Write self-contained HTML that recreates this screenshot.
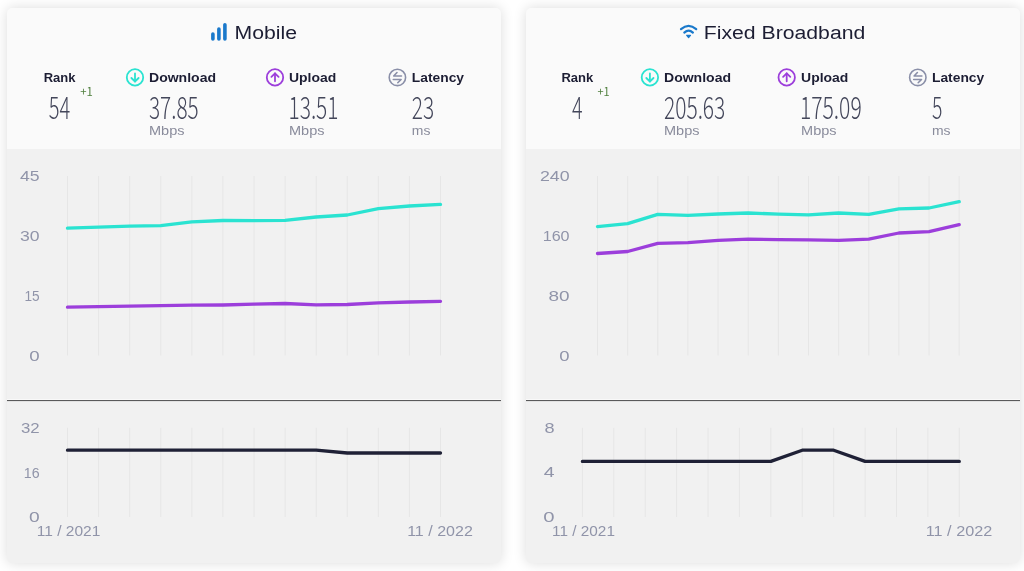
<!DOCTYPE html>
<html><head><meta charset="utf-8"><title>Speedtest Global Index</title>
<style>
html,body{margin:0;padding:0;background:#fff;width:1024px;height:571px;overflow:hidden}
.card{position:absolute;top:8px;width:494px;height:555px;border-radius:5px;background:#f1f1f1;box-shadow:0 0 13px rgba(0,0,0,0.14);overflow:hidden}
.head{position:absolute;left:0;top:0;width:100%;height:141px;background:#fafafa}
.sep{position:absolute;left:0;top:392px;width:100%;height:1px;background:#5a5a5b;box-shadow:0 -1px 0 #f9f9f9,0 1px 0 #e2e2e2}
svg.ov{position:absolute;left:0;top:0}
text{font-family:"Liberation Sans",sans-serif}
.ttl{font-size:18px;fill:#1c1d33}
.lab{font-size:13px;font-weight:700;fill:#1c1d33}
.num{font-family:"Noto Sans CJK JP","DejaVu Sans",sans-serif;font-weight:300;font-size:30.5px;fill:#43465a}
.unit{font-size:13px;fill:#898b9b}
.up{font-family:"Noto Sans CJK JP","DejaVu Sans",sans-serif;font-weight:400;font-size:11.5px;fill:#4f7f3d}
.ax{font-size:15.5px;fill:#9094a9}
</style></head>
<body>
<div class="card" style="left:7px;width:493.5px"><div class="head"></div><div class="sep"></div></div>
<div class="card" style="left:525.5px;width:494.5px"><div class="head"></div><div class="sep"></div></div>
<svg class="ov" width="1024" height="571" viewBox="0 0 1024 571">
<g fill="#1a79cb">
<rect x="211.1" y="32.2" width="3.6" height="8.6" rx="1.8"/>
<rect x="217.1" y="27.3" width="3.6" height="13.5" rx="1.8"/>
<rect x="223.1" y="22.9" width="3.6" height="17.9" rx="1.8"/>
</g>
<text x="234.5" y="38.8" class="ttl" textLength="62.5" lengthAdjust="spacingAndGlyphs">Mobile</text>
<g fill="none" stroke="#1a79cb" stroke-width="2.2" stroke-linecap="round">
<path d="M681,29.2 Q688.6,22.6 696.2,29.2"/>
<path d="M684.3,32.6 Q688.6,28.6 692.9,32.6"/>
</g><path d="M686.7,35.3 L690.5,35.3 L688.6,37.5 Z" fill="#1a79cb" stroke="#1a79cb" stroke-width="1.2" stroke-linejoin="round"/>
<text x="703.8" y="38.7" class="ttl" textLength="161.5" lengthAdjust="spacingAndGlyphs">Fixed Broadband</text>
<text x="59.6" y="81.7" text-anchor="middle" class="lab">Rank</text>
<text x="59.6" y="118.7" text-anchor="middle" class="num" textLength="21.5" lengthAdjust="spacingAndGlyphs">54</text>
<text x="149.0" y="81.6" class="lab" textLength="67" lengthAdjust="spacingAndGlyphs">Download</text>
<text x="149.0" y="118.6" class="num" textLength="49.6" lengthAdjust="spacingAndGlyphs">37.85</text>
<text x="149.0" y="134.6" class="unit" textLength="35.5" lengthAdjust="spacingAndGlyphs">Mbps</text>
<text x="289.0" y="81.6" class="lab" textLength="47.3" lengthAdjust="spacingAndGlyphs">Upload</text>
<text x="288.5" y="118.6" class="num" textLength="50" lengthAdjust="spacingAndGlyphs">13.51</text>
<text x="289.0" y="134.6" class="unit" textLength="35.5" lengthAdjust="spacingAndGlyphs">Mbps</text>
<text x="411.8" y="81.6" class="lab" textLength="52.2" lengthAdjust="spacingAndGlyphs">Latency</text>
<text x="411.8" y="118.6" class="num" textLength="22.3" lengthAdjust="spacingAndGlyphs">23</text>
<text x="411.8" y="134.6" class="unit" textLength="18.6" lengthAdjust="spacingAndGlyphs">ms</text>
<g fill="none" stroke="#2ae3d1" stroke-width="1.8" stroke-linecap="round" stroke-linejoin="round">
<circle cx="135" cy="77.4" r="8.2"/>
<path d="M135,73.5 V81.4"/><path d="M131.4,78.0 L135,81.5 L138.6,78.0"/></g>
<g fill="none" stroke="#9c3edb" stroke-width="1.8" stroke-linecap="round" stroke-linejoin="round">
<circle cx="275" cy="77.4" r="8.2"/>
<path d="M275,81.30000000000001 V73.4"/><path d="M271.4,76.80000000000001 L275,73.30000000000001 L278.6,76.80000000000001"/></g>
<g fill="none" stroke="#8a8fa8" stroke-width="1.6" stroke-linecap="round" stroke-linejoin="round">
<circle cx="397.4" cy="77.4" r="8.2"/>
<path d="M401.5,76.0 H393.7 L397.0,72.5"/><path d="M393.29999999999995,79.5 H401.09999999999997 L397.79999999999995,82.7"/></g>
<text x="80.3" y="95.5" class="up" textLength="12.6" lengthAdjust="spacingAndGlyphs">+1</text>
<text x="577.3" y="81.7" text-anchor="middle" class="lab">Rank</text>
<text x="577.3" y="118.7" text-anchor="middle" class="num" textLength="10.6" lengthAdjust="spacingAndGlyphs">4</text>
<text x="664.0" y="81.6" class="lab" textLength="67" lengthAdjust="spacingAndGlyphs">Download</text>
<text x="664.0" y="118.6" class="num" textLength="61.3" lengthAdjust="spacingAndGlyphs">205.63</text>
<text x="664.0" y="134.6" class="unit" textLength="35.5" lengthAdjust="spacingAndGlyphs">Mbps</text>
<text x="801.1" y="81.6" class="lab" textLength="47.3" lengthAdjust="spacingAndGlyphs">Upload</text>
<text x="799.9" y="118.6" class="num" textLength="61.8" lengthAdjust="spacingAndGlyphs">175.09</text>
<text x="801.1" y="134.6" class="unit" textLength="35.5" lengthAdjust="spacingAndGlyphs">Mbps</text>
<text x="932.0" y="81.6" class="lab" textLength="52.2" lengthAdjust="spacingAndGlyphs">Latency</text>
<text x="932.0" y="118.6" class="num" textLength="10.4" lengthAdjust="spacingAndGlyphs">5</text>
<text x="932.0" y="134.6" class="unit" textLength="18.6" lengthAdjust="spacingAndGlyphs">ms</text>
<g fill="none" stroke="#2ae3d1" stroke-width="1.8" stroke-linecap="round" stroke-linejoin="round">
<circle cx="649.9" cy="77.4" r="8.2"/>
<path d="M649.9,73.5 V81.4"/><path d="M646.3,78.0 L649.9,81.5 L653.5,78.0"/></g>
<g fill="none" stroke="#9c3edb" stroke-width="1.8" stroke-linecap="round" stroke-linejoin="round">
<circle cx="786.7" cy="77.4" r="8.2"/>
<path d="M786.7,81.30000000000001 V73.4"/><path d="M783.1,76.80000000000001 L786.7,73.30000000000001 L790.3000000000001,76.80000000000001"/></g>
<g fill="none" stroke="#8a8fa8" stroke-width="1.6" stroke-linecap="round" stroke-linejoin="round">
<circle cx="917.8" cy="77.4" r="8.2"/>
<path d="M921.9,76.0 H914.0999999999999 L917.4,72.5"/><path d="M913.6999999999999,79.5 H921.5 L918.1999999999999,82.7"/></g>
<text x="597.4" y="95.5" class="up" textLength="12.2" lengthAdjust="spacingAndGlyphs">+1</text>
<line x1="67.50" y1="176" x2="67.50" y2="355.5" stroke="#e6e6e6" stroke-width="1"/>
<line x1="98.58" y1="176" x2="98.58" y2="355.5" stroke="#e6e6e6" stroke-width="1"/>
<line x1="129.67" y1="176" x2="129.67" y2="355.5" stroke="#e6e6e6" stroke-width="1"/>
<line x1="160.75" y1="176" x2="160.75" y2="355.5" stroke="#e6e6e6" stroke-width="1"/>
<line x1="191.83" y1="176" x2="191.83" y2="355.5" stroke="#e6e6e6" stroke-width="1"/>
<line x1="222.92" y1="176" x2="222.92" y2="355.5" stroke="#e6e6e6" stroke-width="1"/>
<line x1="254.00" y1="176" x2="254.00" y2="355.5" stroke="#e6e6e6" stroke-width="1"/>
<line x1="285.08" y1="176" x2="285.08" y2="355.5" stroke="#e6e6e6" stroke-width="1"/>
<line x1="316.17" y1="176" x2="316.17" y2="355.5" stroke="#e6e6e6" stroke-width="1"/>
<line x1="347.25" y1="176" x2="347.25" y2="355.5" stroke="#e6e6e6" stroke-width="1"/>
<line x1="378.33" y1="176" x2="378.33" y2="355.5" stroke="#e6e6e6" stroke-width="1"/>
<line x1="409.42" y1="176" x2="409.42" y2="355.5" stroke="#e6e6e6" stroke-width="1"/>
<line x1="440.50" y1="176" x2="440.50" y2="355.5" stroke="#e6e6e6" stroke-width="1"/>
<line x1="67.50" y1="427.8" x2="67.50" y2="517" stroke="#e6e6e6" stroke-width="1"/>
<line x1="98.58" y1="427.8" x2="98.58" y2="517" stroke="#e6e6e6" stroke-width="1"/>
<line x1="129.67" y1="427.8" x2="129.67" y2="517" stroke="#e6e6e6" stroke-width="1"/>
<line x1="160.75" y1="427.8" x2="160.75" y2="517" stroke="#e6e6e6" stroke-width="1"/>
<line x1="191.83" y1="427.8" x2="191.83" y2="517" stroke="#e6e6e6" stroke-width="1"/>
<line x1="222.92" y1="427.8" x2="222.92" y2="517" stroke="#e6e6e6" stroke-width="1"/>
<line x1="254.00" y1="427.8" x2="254.00" y2="517" stroke="#e6e6e6" stroke-width="1"/>
<line x1="285.08" y1="427.8" x2="285.08" y2="517" stroke="#e6e6e6" stroke-width="1"/>
<line x1="316.17" y1="427.8" x2="316.17" y2="517" stroke="#e6e6e6" stroke-width="1"/>
<line x1="347.25" y1="427.8" x2="347.25" y2="517" stroke="#e6e6e6" stroke-width="1"/>
<line x1="378.33" y1="427.8" x2="378.33" y2="517" stroke="#e6e6e6" stroke-width="1"/>
<line x1="409.42" y1="427.8" x2="409.42" y2="517" stroke="#e6e6e6" stroke-width="1"/>
<line x1="440.50" y1="427.8" x2="440.50" y2="517" stroke="#e6e6e6" stroke-width="1"/>
<text x="39.6" y="180.9" text-anchor="end" class="ax" textLength="19.6" lengthAdjust="spacingAndGlyphs">45</text>
<text x="39.6" y="241.0" text-anchor="end" class="ax" textLength="19.6" lengthAdjust="spacingAndGlyphs">30</text>
<text x="39.6" y="300.8" text-anchor="end" class="ax" textLength="15.2" lengthAdjust="spacingAndGlyphs">15</text>
<text x="39.6" y="360.8" text-anchor="end" class="ax" textLength="10.4" lengthAdjust="spacingAndGlyphs">0</text>
<text x="39.6" y="432.8" text-anchor="end" class="ax" textLength="18.7" lengthAdjust="spacingAndGlyphs">32</text>
<text x="39.6" y="477.8" text-anchor="end" class="ax" textLength="15.8" lengthAdjust="spacingAndGlyphs">16</text>
<text x="39.6" y="522.4" text-anchor="end" class="ax" textLength="10.7" lengthAdjust="spacingAndGlyphs">0</text>
<path d="M67.50,228.10 L98.58,227.10 L129.67,226.10 L160.75,225.60 L191.83,221.80 L222.92,220.50 L254.00,220.70 L285.08,220.30 L316.17,217.00 L347.25,215.00 L378.33,208.60 L409.42,206.00 L440.50,204.30" stroke="#2ae3d1" stroke-width="3.3" fill="none" stroke-linecap="round" stroke-linejoin="round"/>
<path d="M67.50,307.20 L98.58,306.70 L129.67,306.20 L160.75,305.60 L191.83,305.20 L222.92,305.00 L254.00,304.20 L285.08,303.50 L316.17,304.80 L347.25,304.50 L378.33,302.80 L409.42,302.00 L440.50,301.30" stroke="#9c3edb" stroke-width="3.3" fill="none" stroke-linecap="round" stroke-linejoin="round"/>
<path d="M67.50,450.20 L98.58,450.20 L129.67,450.20 L160.75,450.20 L191.83,450.20 L222.92,450.20 L254.00,450.20 L285.08,450.20 L316.17,450.20 L347.25,453.00 L378.33,453.00 L409.42,453.00 L440.50,453.00" stroke="#1f2136" stroke-width="3.3" fill="none" stroke-linecap="round" stroke-linejoin="round"/>
<text x="68.6" y="536.2" text-anchor="middle" class="ax" textLength="63.6" lengthAdjust="spacingAndGlyphs">11 / 2021</text>
<text x="440" y="536.2" text-anchor="middle" class="ax" textLength="65.7" lengthAdjust="spacingAndGlyphs">11 / 2022</text>
<line x1="597.50" y1="176" x2="597.50" y2="355.5" stroke="#e6e6e6" stroke-width="1"/>
<line x1="627.64" y1="176" x2="627.64" y2="355.5" stroke="#e6e6e6" stroke-width="1"/>
<line x1="657.78" y1="176" x2="657.78" y2="355.5" stroke="#e6e6e6" stroke-width="1"/>
<line x1="687.92" y1="176" x2="687.92" y2="355.5" stroke="#e6e6e6" stroke-width="1"/>
<line x1="718.07" y1="176" x2="718.07" y2="355.5" stroke="#e6e6e6" stroke-width="1"/>
<line x1="748.21" y1="176" x2="748.21" y2="355.5" stroke="#e6e6e6" stroke-width="1"/>
<line x1="778.35" y1="176" x2="778.35" y2="355.5" stroke="#e6e6e6" stroke-width="1"/>
<line x1="808.49" y1="176" x2="808.49" y2="355.5" stroke="#e6e6e6" stroke-width="1"/>
<line x1="838.63" y1="176" x2="838.63" y2="355.5" stroke="#e6e6e6" stroke-width="1"/>
<line x1="868.78" y1="176" x2="868.78" y2="355.5" stroke="#e6e6e6" stroke-width="1"/>
<line x1="898.92" y1="176" x2="898.92" y2="355.5" stroke="#e6e6e6" stroke-width="1"/>
<line x1="929.06" y1="176" x2="929.06" y2="355.5" stroke="#e6e6e6" stroke-width="1"/>
<line x1="959.20" y1="176" x2="959.20" y2="355.5" stroke="#e6e6e6" stroke-width="1"/>
<line x1="582.40" y1="427.8" x2="582.40" y2="517" stroke="#e6e6e6" stroke-width="1"/>
<line x1="613.81" y1="427.8" x2="613.81" y2="517" stroke="#e6e6e6" stroke-width="1"/>
<line x1="645.22" y1="427.8" x2="645.22" y2="517" stroke="#e6e6e6" stroke-width="1"/>
<line x1="676.62" y1="427.8" x2="676.62" y2="517" stroke="#e6e6e6" stroke-width="1"/>
<line x1="708.03" y1="427.8" x2="708.03" y2="517" stroke="#e6e6e6" stroke-width="1"/>
<line x1="739.44" y1="427.8" x2="739.44" y2="517" stroke="#e6e6e6" stroke-width="1"/>
<line x1="770.85" y1="427.8" x2="770.85" y2="517" stroke="#e6e6e6" stroke-width="1"/>
<line x1="802.26" y1="427.8" x2="802.26" y2="517" stroke="#e6e6e6" stroke-width="1"/>
<line x1="833.67" y1="427.8" x2="833.67" y2="517" stroke="#e6e6e6" stroke-width="1"/>
<line x1="865.08" y1="427.8" x2="865.08" y2="517" stroke="#e6e6e6" stroke-width="1"/>
<line x1="896.48" y1="427.8" x2="896.48" y2="517" stroke="#e6e6e6" stroke-width="1"/>
<line x1="927.89" y1="427.8" x2="927.89" y2="517" stroke="#e6e6e6" stroke-width="1"/>
<line x1="959.30" y1="427.8" x2="959.30" y2="517" stroke="#e6e6e6" stroke-width="1"/>
<text x="569.6" y="180.9" text-anchor="end" class="ax" textLength="29.7" lengthAdjust="spacingAndGlyphs">240</text>
<text x="569.6" y="241.0" text-anchor="end" class="ax" textLength="26.9" lengthAdjust="spacingAndGlyphs">160</text>
<text x="569.6" y="300.8" text-anchor="end" class="ax" textLength="21.1" lengthAdjust="spacingAndGlyphs">80</text>
<text x="569.6" y="360.8" text-anchor="end" class="ax" textLength="10.3" lengthAdjust="spacingAndGlyphs">0</text>
<text x="554.5" y="432.9" text-anchor="end" class="ax" textLength="10.1" lengthAdjust="spacingAndGlyphs">8</text>
<text x="554.5" y="477.3" text-anchor="end" class="ax" textLength="10.8" lengthAdjust="spacingAndGlyphs">4</text>
<text x="554.5" y="521.7" text-anchor="end" class="ax" textLength="11.3" lengthAdjust="spacingAndGlyphs">0</text>
<path d="M597.50,226.70 L627.64,223.60 L657.78,214.40 L687.92,215.40 L718.07,214.00 L748.21,213.00 L778.35,214.10 L808.49,214.80 L838.63,213.00 L868.78,214.40 L898.92,208.90 L929.06,208.00 L959.20,201.70" stroke="#2ae3d1" stroke-width="3.3" fill="none" stroke-linecap="round" stroke-linejoin="round"/>
<path d="M597.50,253.50 L627.64,251.50 L657.78,243.30 L687.92,242.70 L718.07,240.40 L748.21,239.20 L778.35,239.60 L808.49,239.80 L838.63,240.40 L868.78,239.20 L898.92,233.00 L929.06,231.60 L959.20,224.60" stroke="#9c3edb" stroke-width="3.3" fill="none" stroke-linecap="round" stroke-linejoin="round"/>
<path d="M582.40,461.40 L613.81,461.40 L645.22,461.40 L676.62,461.40 L708.03,461.40 L739.44,461.40 L770.85,461.40 L802.26,450.20 L833.67,450.20 L865.08,461.40 L896.48,461.40 L927.89,461.40 L959.30,461.40" stroke="#1f2136" stroke-width="3.3" fill="none" stroke-linecap="round" stroke-linejoin="round"/>
<text x="583.5" y="536.2" text-anchor="middle" class="ax" textLength="62.9" lengthAdjust="spacingAndGlyphs">11 / 2021</text>
<text x="959" y="536.2" text-anchor="middle" class="ax" textLength="66.5" lengthAdjust="spacingAndGlyphs">11 / 2022</text>
</svg>
</body></html>
